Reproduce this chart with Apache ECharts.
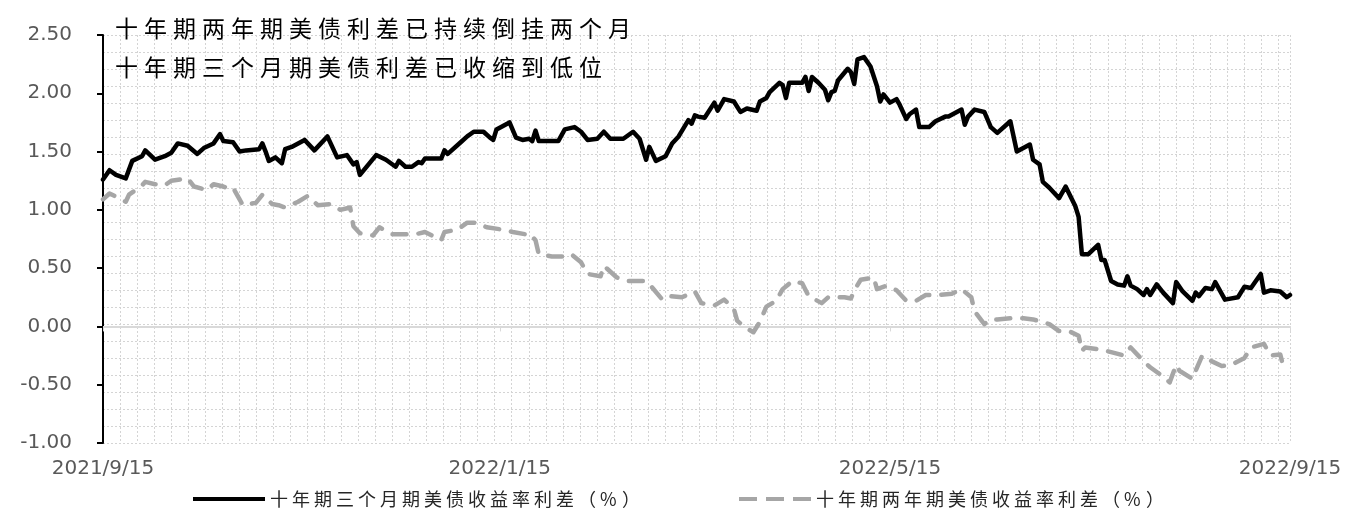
<!DOCTYPE html>
<html>
<head>
<meta charset="utf-8">
<script src="https://cdn.jsdelivr.net/npm/echarts@6/dist/echarts.min.js"></script>
<style>
  html, body { margin: 0; padding: 0; background: #fff; }
  #chart { width: 1347px; height: 514px; }
</style>
</head>
<body>
<div id="chart"></div>
<script>
// 十年期三个月期 spread
const blackDates = [
  '2021-09-15','2021-09-17','2021-09-19','2021-09-22','2021-09-24','2021-09-27','2021-09-28','2021-10-01',
  '2021-10-04','2021-10-06','2021-10-08','2021-10-11','2021-10-14','2021-10-16','2021-10-19','2021-10-21',
  '2021-10-22','2021-10-25','2021-10-27','2021-10-29','2021-11-02','2021-11-03','2021-11-04','2021-11-05',
  '2021-11-07','2021-11-09','2021-11-10','2021-11-12','2021-11-16','2021-11-19','2021-11-23','2021-11-26',
  '2021-11-29','2021-12-01','2021-12-02','2021-12-03','2021-12-08','2021-12-11','2021-12-14','2021-12-15',
  '2021-12-17','2021-12-19','2021-12-21','2021-12-22','2021-12-23','2021-12-28','2021-12-29','2021-12-30',
  '2022-01-03','2022-01-05','2022-01-07','2022-01-10','2022-01-12','2022-01-13','2022-01-14','2022-01-18',
  '2022-01-20','2022-01-22','2022-01-24','2022-01-25','2022-01-26','2022-01-27','2022-02-02','2022-02-04',
  '2022-02-07','2022-02-09','2022-02-11','2022-02-14','2022-02-16','2022-02-18','2022-02-22','2022-02-25',
  '2022-02-27','2022-02-28','2022-03-01','2022-03-02','2022-03-04','2022-03-07','2022-03-09','2022-03-11',
  '2022-03-14','2022-03-15','2022-03-16','2022-03-17','2022-03-19','2022-03-22','2022-03-23','2022-03-25',
  '2022-03-28','2022-03-30','2022-04-01','2022-04-04','2022-04-05','2022-04-07','2022-04-08','2022-04-11',
  '2022-04-12','2022-04-13','2022-04-14','2022-04-18','2022-04-19','2022-04-20','2022-04-21','2022-04-23',
  '2022-04-25','2022-04-26','2022-04-27','2022-04-28','2022-04-29','2022-05-02','2022-05-03','2022-05-04',
  '2022-05-05','2022-05-07','2022-05-09','2022-05-11','2022-05-12','2022-05-13','2022-05-15','2022-05-17',
  '2022-05-18','2022-05-20','2022-05-21','2022-05-23','2022-05-24','2022-05-27','2022-05-29','2022-06-01',
  '2022-06-02','2022-06-06','2022-06-07','2022-06-08','2022-06-10','2022-06-13','2022-06-15','2022-06-17',
  '2022-06-21','2022-06-23','2022-06-27','2022-06-28','2022-06-30','2022-07-01','2022-07-03','2022-07-06',
  '2022-07-08','2022-07-11','2022-07-12','2022-07-13','2022-07-15','2022-07-18','2022-07-19','2022-07-20',
  '2022-07-22','2022-07-24','2022-07-26','2022-07-27','2022-07-28','2022-07-30','2022-08-01','2022-08-02',
  '2022-08-03','2022-08-05','2022-08-07','2022-08-10','2022-08-11','2022-08-13','2022-08-16','2022-08-17',
  '2022-08-18','2022-08-20','2022-08-22','2022-08-23','2022-08-26','2022-08-30','2022-09-01','2022-09-03',
  '2022-09-06','2022-09-07','2022-09-09','2022-09-12','2022-09-14','2022-09-15'
];
const blackValues = [
  1.26, 1.34, 1.30, 1.27, 1.42, 1.46, 1.51, 1.43,
  1.46, 1.49, 1.57, 1.55, 1.48, 1.53, 1.57, 1.65,
  1.59, 1.58, 1.50, 1.51, 1.52, 1.57, 1.50, 1.42,
  1.45, 1.40, 1.52, 1.54, 1.60, 1.51, 1.63, 1.45,
  1.47, 1.39, 1.41, 1.30, 1.47, 1.43, 1.37, 1.42,
  1.37, 1.37, 1.41, 1.40, 1.44, 1.44, 1.51, 1.48,
  1.58, 1.63, 1.67, 1.67, 1.62, 1.60, 1.69, 1.75,
  1.62, 1.60, 1.61, 1.59, 1.68, 1.59, 1.59, 1.69,
  1.71, 1.67, 1.60, 1.61, 1.67, 1.61, 1.61, 1.67,
  1.61, 1.52, 1.43, 1.54, 1.42, 1.46, 1.57, 1.63,
  1.77, 1.74, 1.81, 1.80, 1.79, 1.92, 1.85, 1.95,
  1.93, 1.84, 1.87, 1.85, 1.93, 1.96, 2.01, 2.09,
  2.07, 1.96, 2.09, 2.09, 2.14, 2.02, 2.14, 2.09,
  2.03, 1.94, 2.01, 2.02, 2.11, 2.21, 2.18, 2.08,
  2.29, 2.31, 2.23, 2.06, 1.93, 1.99, 1.92, 1.95,
  1.90, 1.78, 1.82, 1.86, 1.71, 1.71, 1.76, 1.80,
  1.80, 1.86, 1.73, 1.80, 1.86, 1.84, 1.71, 1.66,
  1.76, 1.50, 1.56, 1.43, 1.39, 1.24, 1.19, 1.10,
  1.20, 1.03, 0.94, 0.62, 0.62, 0.70, 0.57, 0.57,
  0.39, 0.36, 0.35, 0.43, 0.35, 0.32, 0.27, 0.32,
  0.27, 0.36, 0.29, 0.20, 0.38, 0.30, 0.22, 0.29,
  0.26, 0.33, 0.32, 0.38, 0.23, 0.25, 0.34, 0.33,
  0.45, 0.29, 0.31, 0.30, 0.25, 0.27
];

// 十年期两年期 spread
const grayDates = [
  '2021-09-15','2021-09-17','2021-09-20','2021-09-22','2021-09-23','2021-09-27','2021-09-28','2021-10-01',
  '2021-10-04','2021-10-06','2021-10-11','2021-10-13','2021-10-17','2021-10-19','2021-10-22','2021-10-24',
  '2021-10-25','2021-10-27','2021-10-28','2021-11-01','2021-11-03','2021-11-06','2021-11-08','2021-11-10',
  '2021-11-14','2021-11-17','2021-11-20','2021-11-24','2021-11-27','2021-11-30','2021-12-01','2021-12-03',
  '2021-12-07','2021-12-09','2021-12-13','2021-12-16','2021-12-20','2021-12-23','2021-12-28','2021-12-29',
  '2022-01-02','2022-01-05','2022-01-08','2022-01-11','2022-01-16','2022-01-19','2022-01-23','2022-01-24',
  '2022-01-26','2022-01-27','2022-01-31','2022-02-04','2022-02-06','2022-02-09','2022-02-11','2022-02-15',
  '2022-02-16','2022-02-20','2022-02-23','2022-03-01','2022-03-03','2022-03-06','2022-03-08','2022-03-12',
  '2022-03-16','2022-03-18','2022-03-22','2022-03-25','2022-03-28','2022-03-29','2022-03-31','2022-04-03',
  '2022-04-05','2022-04-07','2022-04-10','2022-04-12','2022-04-15','2022-04-18','2022-04-20','2022-04-24',
  '2022-04-26','2022-05-01','2022-05-03','2022-05-04','2022-05-06','2022-05-10','2022-05-11','2022-05-14',
  '2022-05-17','2022-05-20','2022-05-23','2022-05-26','2022-05-30','2022-06-03','2022-06-06','2022-06-09',
  '2022-06-10','2022-06-13','2022-06-15','2022-06-17','2022-06-21','2022-06-25','2022-06-28','2022-07-03',
  '2022-07-06','2022-07-09','2022-07-12','2022-07-13','2022-07-14','2022-07-19','2022-07-22','2022-07-26',
  '2022-07-28','2022-08-01','2022-08-03','2022-08-07','2022-08-09','2022-08-11','2022-08-12','2022-08-16',
  '2022-08-17','2022-08-19','2022-08-22','2022-08-25','2022-08-28','2022-09-01','2022-09-03','2022-09-07',
  '2022-09-09','2022-09-12','2022-09-13'
];
const grayValues = [
  1.09, 1.14, 1.10, 1.07, 1.13, 1.21, 1.24, 1.22,
  1.21, 1.25, 1.27, 1.20, 1.17, 1.22, 1.20, 1.18,
  1.19, 1.09, 1.04, 1.06, 1.13, 1.05, 1.04, 1.02,
  1.07, 1.12, 1.04, 1.05, 1.00, 1.02, 0.86, 0.80,
  0.78, 0.85, 0.79, 0.79, 0.79, 0.81, 0.74, 0.81,
  0.83, 0.89, 0.89, 0.85, 0.83, 0.81, 0.79, 0.80,
  0.74, 0.62, 0.60, 0.60, 0.62, 0.55, 0.45, 0.43,
  0.52, 0.42, 0.39, 0.39, 0.33, 0.23, 0.26, 0.25,
  0.30, 0.20, 0.18, 0.23, 0.15, 0.05, 0.00, -0.05,
  0.04, 0.17, 0.22, 0.32, 0.39, 0.37, 0.26, 0.20,
  0.25, 0.25, 0.24, 0.31, 0.40, 0.42, 0.32, 0.35,
  0.31, 0.22, 0.22, 0.27, 0.27, 0.28, 0.32, 0.25,
  0.13, 0.02, 0.06, 0.06, 0.07, 0.07, 0.06, 0.02,
  -0.04, -0.04, -0.08, -0.21, -0.18, -0.20, -0.22, -0.25,
  -0.18, -0.30, -0.35, -0.43, -0.48, -0.33, -0.38, -0.45,
  -0.38, -0.25, -0.30, -0.34, -0.33, -0.27, -0.18, -0.15,
  -0.25, -0.24, -0.35
];

const seriesNames = ['十年期三个月期美债收益率利差（%）', '十年期两年期美债收益率利差（%）'];
const titleLines = ['十年期两年期美债利差已持续倒挂两个月', '十年期三个月期美债利差已收缩到低位'];
const xLabelDates = ['2021-09-15', '2022-01-15', '2022-05-15', '2022-09-15'];

const CJK = '"Noto Sans CJK SC", sans-serif';
const t = s => +echarts.time.parse(s);
const xMin = t('2021-09-15');
const xMax = t('2022-09-15');
const xLabelValues = xLabelDates.map(t);

// spread every character out, like the wide CJK font in the original
const spaced = s => s.split('').map(c => '{c|' + c + '}').join('');

const chart = echarts.init(document.getElementById('chart'));

chart.setOption({
  animation: false,
  backgroundColor: '#fff',
  title: titleLines.map((line, i) => ({
    text: spaced(line),
    left: 115,
    top: 13 + i * 39,
    padding: 0,
    textStyle: {
      fontWeight: 'normal',
      rich: {
        c: { width: 29, fontSize: 23, fontWeight: 'normal', lineHeight: 30, color: '#000', fontFamily: CJK }
      }
    }
  })),
  legend: {
    data: [
      { name: seriesNames[0], icon: 'path://M0,0h72v4h-72z' },
      { name: seriesNames[1], icon: 'path://M0,0h18v4h-18zM27,0h18v4h-18zM54,0h18v4h-18z' }
    ],
    left: 188,
    top: 485,
    itemWidth: 72,
    itemHeight: 4,
    symbolKeepAspect: false,
    itemGap: 95,
    formatter: name => spaced(name),
    textStyle: {
      rich: {
        c: { width: 22, fontSize: 18, lineHeight: 24, color: '#262626', fontFamily: CJK }
      }
    }
  },
  grid: { left: 103, right: 57, top: 35, bottom: 71, containLabel: false },
  xAxis: [
    {
      // zero line with small ticks
      type: 'value',
      min: xMin,
      max: xMax,
      axisLine: { onZero: true, lineStyle: { color: '#d9d9d9', width: 2 } },
      axisTick: { show: true, customValues: xLabelValues, length: 5, lineStyle: { color: '#d9d9d9', width: 1 } },
      axisLabel: { show: false },
      splitLine: { show: false }
    },
    {
      // date labels at the bottom
      type: 'value',
      min: xMin,
      max: xMax,
      position: 'bottom',
      axisLine: { show: false, onZero: false },
      axisTick: { show: false },
      splitLine: { show: false },
      axisLabel: {
        customValues: xLabelValues,
        margin: 16,
        color: '#595959',
        fontSize: 20,
        fontFamily: '"DejaVu Sans", sans-serif',
        formatter: v => {
          const d = new Date(v);
          return d.getFullYear() + '/' + (d.getMonth() + 1) + '/' + d.getDate();
        }
      }
    },
    {
      // dotted background pattern (vertical)
      type: 'value',
      min: 0,
      max: 69.7,
      interval: 1,
      position: 'top',
      axisLine: { show: false },
      axisTick: { show: false },
      axisLabel: { show: false },
      splitLine: { show: true, lineStyle: { color: '#d4d4d4', width: 1, type: [2, 2] } }
    }
  ],
  yAxis: [
    {
      type: 'value',
      min: -1,
      max: 2.5,
      interval: 0.5,
      axisLine: { show: true, onZero: false, lineStyle: { color: '#000', width: 2 } },
      axisTick: { show: true, length: 6, lineStyle: { color: '#000', width: 2 } },
      splitLine: { show: false },
      axisLabel: {
        margin: 31,
        color: '#595959',
        fontSize: 20,
        fontFamily: '"DejaVu Sans", sans-serif',
        formatter: v => v.toFixed(2)
      }
    },
    {
      // dotted background pattern (horizontal)
      type: 'value',
      min: 0,
      max: 24,
      interval: 1,
      position: 'right',
      axisLine: { show: false },
      axisTick: { show: false },
      axisLabel: { show: false },
      splitLine: { show: true, lineStyle: { color: '#d4d4d4', width: 1, type: [2, 2] } }
    }
  ],
  series: [
    {
      name: seriesNames[0],
      type: 'line',
      xAxisIndex: 0,
      yAxisIndex: 0,
      symbol: 'none',
      z: 4,
      lineStyle: { color: '#000', width: 4.5, join: 'round', cap: 'round' },
      itemStyle: { color: '#000' },
      data: blackDates.map((d, i) => [t(d), blackValues[i]])
    },
    {
      name: seriesNames[1],
      type: 'line',
      xAxisIndex: 0,
      yAxisIndex: 0,
      symbol: 'none',
      z: 3,
      lineStyle: { color: '#a6a6a6', width: 4.5, type: [14, 12], cap: 'round', join: 'round' },
      itemStyle: { color: '#a6a6a6' },
      data: grayDates.map((d, i) => [t(d), grayValues[i]])
    }
  ]
});
</script>
</body>
</html>
